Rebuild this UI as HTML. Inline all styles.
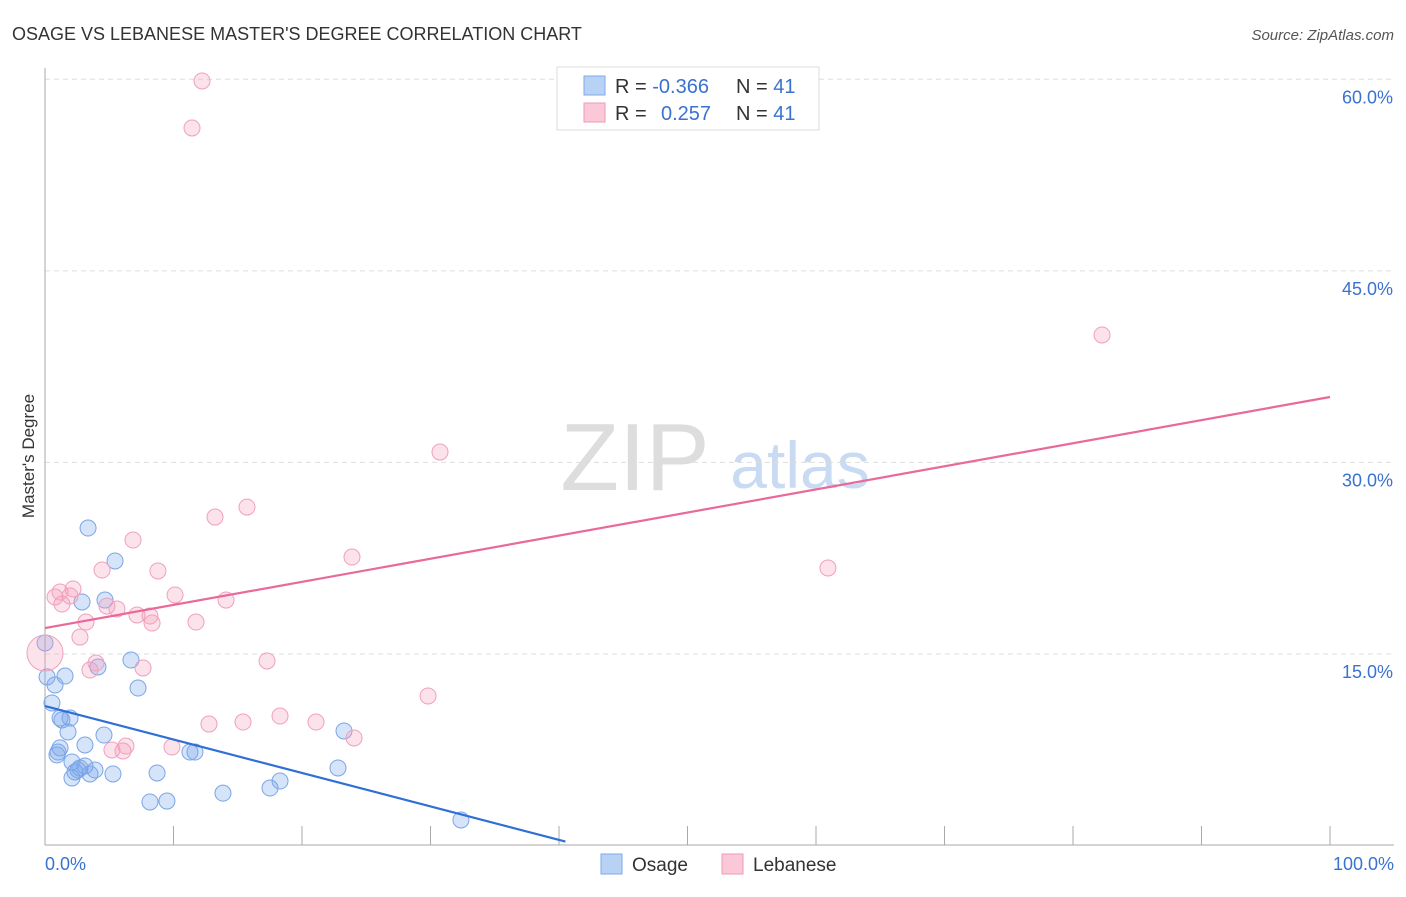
<!DOCTYPE html>
<html><head><meta charset="utf-8"><style>
body{margin:0;background:#fff;font-family:"Liberation Sans",sans-serif;overflow:hidden;}
svg text{font-family:"Liberation Sans",sans-serif;}
</style></head><body>
<svg id="chart" width="1406" height="892">
<text x="12" y="40" font-size="18" fill="#333">OSAGE VS LEBANESE MASTER'S DEGREE CORRELATION CHART</text>
<text x="1394" y="40" font-size="15" fill="#555" font-style="italic" text-anchor="end">Source: ZipAtlas.com</text>
<text x="34" y="456" font-size="17" fill="#333" text-anchor="middle" transform="rotate(-90 34 456)">Master's Degree</text>
<text x="635" y="490" font-size="96" fill="#ddd" font-family="Liberation Serif" text-anchor="middle">ZIP</text>
<text x="800" y="488" font-size="66" fill="#c9daf3" text-anchor="middle">atlas</text>
<g id="grid"></g><g id="pts"></g><g id="lines"></g>
<g>
<rect x="557" y="67" width="262" height="63" fill="#fff" stroke="#ddd"/>
<rect x="584" y="76" width="21" height="19" fill="#b8d2f5" stroke="#7fa9e6"/>
<rect x="584" y="103" width="21" height="19" fill="#fbc8d8" stroke="#ef9ab6"/>
<text x="615" y="93" font-size="20" fill="#333">R = <tspan fill="#3a72d0">-0.366</tspan></text>
<text x="736" y="93" font-size="20" fill="#333">N = <tspan fill="#3a72d0">41</tspan></text>
<text x="615" y="120" font-size="20" fill="#333">R = <tspan fill="#3a72d0" x="661">0.257</tspan></text>
<text x="736" y="120" font-size="20" fill="#333">N = <tspan fill="#3a72d0">41</tspan></text>
</g>
<g>
<rect x="601" y="854" width="21" height="20" fill="#b8d2f5" stroke="#7fa9e6"/>
<text x="632" y="871" font-size="19" fill="#333">Osage</text>
<rect x="722" y="854" width="21" height="20" fill="#fbc8d8" stroke="#ef9ab6"/>
<text x="753" y="871" font-size="19" fill="#333">Lebanese</text>
</g>
</svg>
<script>
const yTicks=[15,30,45,60];
const yTickLabels=["15.0%","30.0%","45.0%","60.0%"];
const xTickLabels=["0.0%","100.0%"];
const osageX=[0,0.16,0.54,0.78,1.56,3.35,5.45,2.88,4.67,4.12,6.69,7.24,1.17,1.95,1.79,1.01,1.17,3.11,4.59,2.1,2.57,3.11,3.89,3.5,2.33,5.29,8.72,8.17,9.49,11.28,11.67,13.85,17.51,18.29,22.8,23.27,32.37,0.93,2.1,1.32,2.72];
const osageY=[15.86,13.2,11.16,12.57,13.27,24.86,22.28,19.07,19.22,13.98,14.53,12.33,9.98,9.98,8.89,7.32,7.64,7.87,8.65,6.54,5.91,6.23,5.91,5.6,5.76,5.6,5.68,3.41,3.48,7.32,7.32,4.1,4.5,5.05,6.07,8.97,2.0,7.09,5.29,9.83,6.07];
const lebX=[12.22,11.44,82.26,30.74,15.72,13.23,23.89,60.93,6.85,4.44,8.79,10.12,0.78,1.32,2.18,1.95,4.82,5.6,7.16,8.17,8.33,11.75,14.09,3.19,2.72,3.97,3.5,7.63,17.28,29.81,18.29,12.76,15.41,21.09,24.05,9.88,5.21,6.3,6.07,0,1.17];
const lebY=[59.87,56.19,39.98,30.81,26.5,25.72,22.59,21.73,23.92,21.57,21.5,19.62,19.46,18.91,20.09,19.54,18.75,18.52,18.05,17.97,17.42,17.5,19.22,17.5,16.32,14.29,13.74,13.9,14.45,11.71,10.14,9.51,9.67,9.67,8.42,7.71,7.48,7.79,7.4,15.07,19.85];
const osageTrend=[10.92,-0.262];   // [intercept, slope per %]
const lebTrend=[17.03,0.1809];
const osageTrendEnd=40.5;

const X0=45,X1=1330,YB=845.5,YS=12.77;
const sx=v=>X0+(X1-X0)*v/100, sy=v=>YB-v*YS;
const NS="http://www.w3.org/2000/svg";
function mk(t,a,p){const e=document.createElementNS(NS,t);for(const k in a)e.setAttribute(k,a[k]);p.appendChild(e);return e;}
const grid=document.getElementById('grid'),pts=document.getElementById('pts'),lines=document.getElementById('lines');
yTicks.forEach((v,i)=>{
  const l=mk('line',{x1:X0,x2:1394,y1:sy(v),y2:sy(v),stroke:'#ddd','stroke-dasharray':'5,4'},grid);
  
  
  const t=mk('text',{x:1393,y:sy(v)+24,'font-size':18,fill:'#3a72d0','text-anchor':'end'},grid);
  t.textContent=yTickLabels[i];
  
  
});
const ax=mk('line',{x1:X0,x2:X0,y1:68,y2:845,stroke:'#aaa'},grid);


const bx=mk('line',{x1:X0,x2:1394,y1:845,y2:845,stroke:'#aaa'},grid);


for(let i=0;i<=10;i++){
  const tk=mk('line',{x1:sx(i*10),x2:sx(i*10),y1:826,y2:845,stroke:'#aaa'},grid);
  
  
}
[[0,'start',45],[100,'end',1394]].forEach((d,i)=>{
  const t=mk('text',{x:d[2],y:870,'font-size':18,fill:'#3a72d0','text-anchor':d[1]},grid);
  t.textContent=xTickLabels[i];
  
  
});
osageX.forEach((x,i)=>{
  const c=mk('circle',{cx:sx(x),cy:sy(osageY[i]),r:8,fill:'rgba(120,165,235,0.3)',stroke:'#7aa5e6','stroke-width':1},pts);
  
  
});
lebX.forEach((x,i)=>{
  const big=(x===0&&i===39);
  const c=mk('circle',{cx:sx(x),cy:sy(lebY[i]),r:big?18:8,fill:'rgba(245,160,190,0.3)',stroke:'#f0a0bb','stroke-width':1},pts);
  
  
});
const l1=mk('line',{x1:sx(0),y1:sy(osageTrend[0]),x2:sx(osageTrendEnd),y2:sy(osageTrend[0]+osageTrend[1]*osageTrendEnd),stroke:'#2f6fd6','stroke-width':2.2},lines);


const l2=mk('line',{x1:sx(0),y1:sy(lebTrend[0]),x2:sx(100),y2:sy(lebTrend[0]+lebTrend[1]*100),stroke:'#e8699a','stroke-width':2.2},lines);


</script>
</body></html>
